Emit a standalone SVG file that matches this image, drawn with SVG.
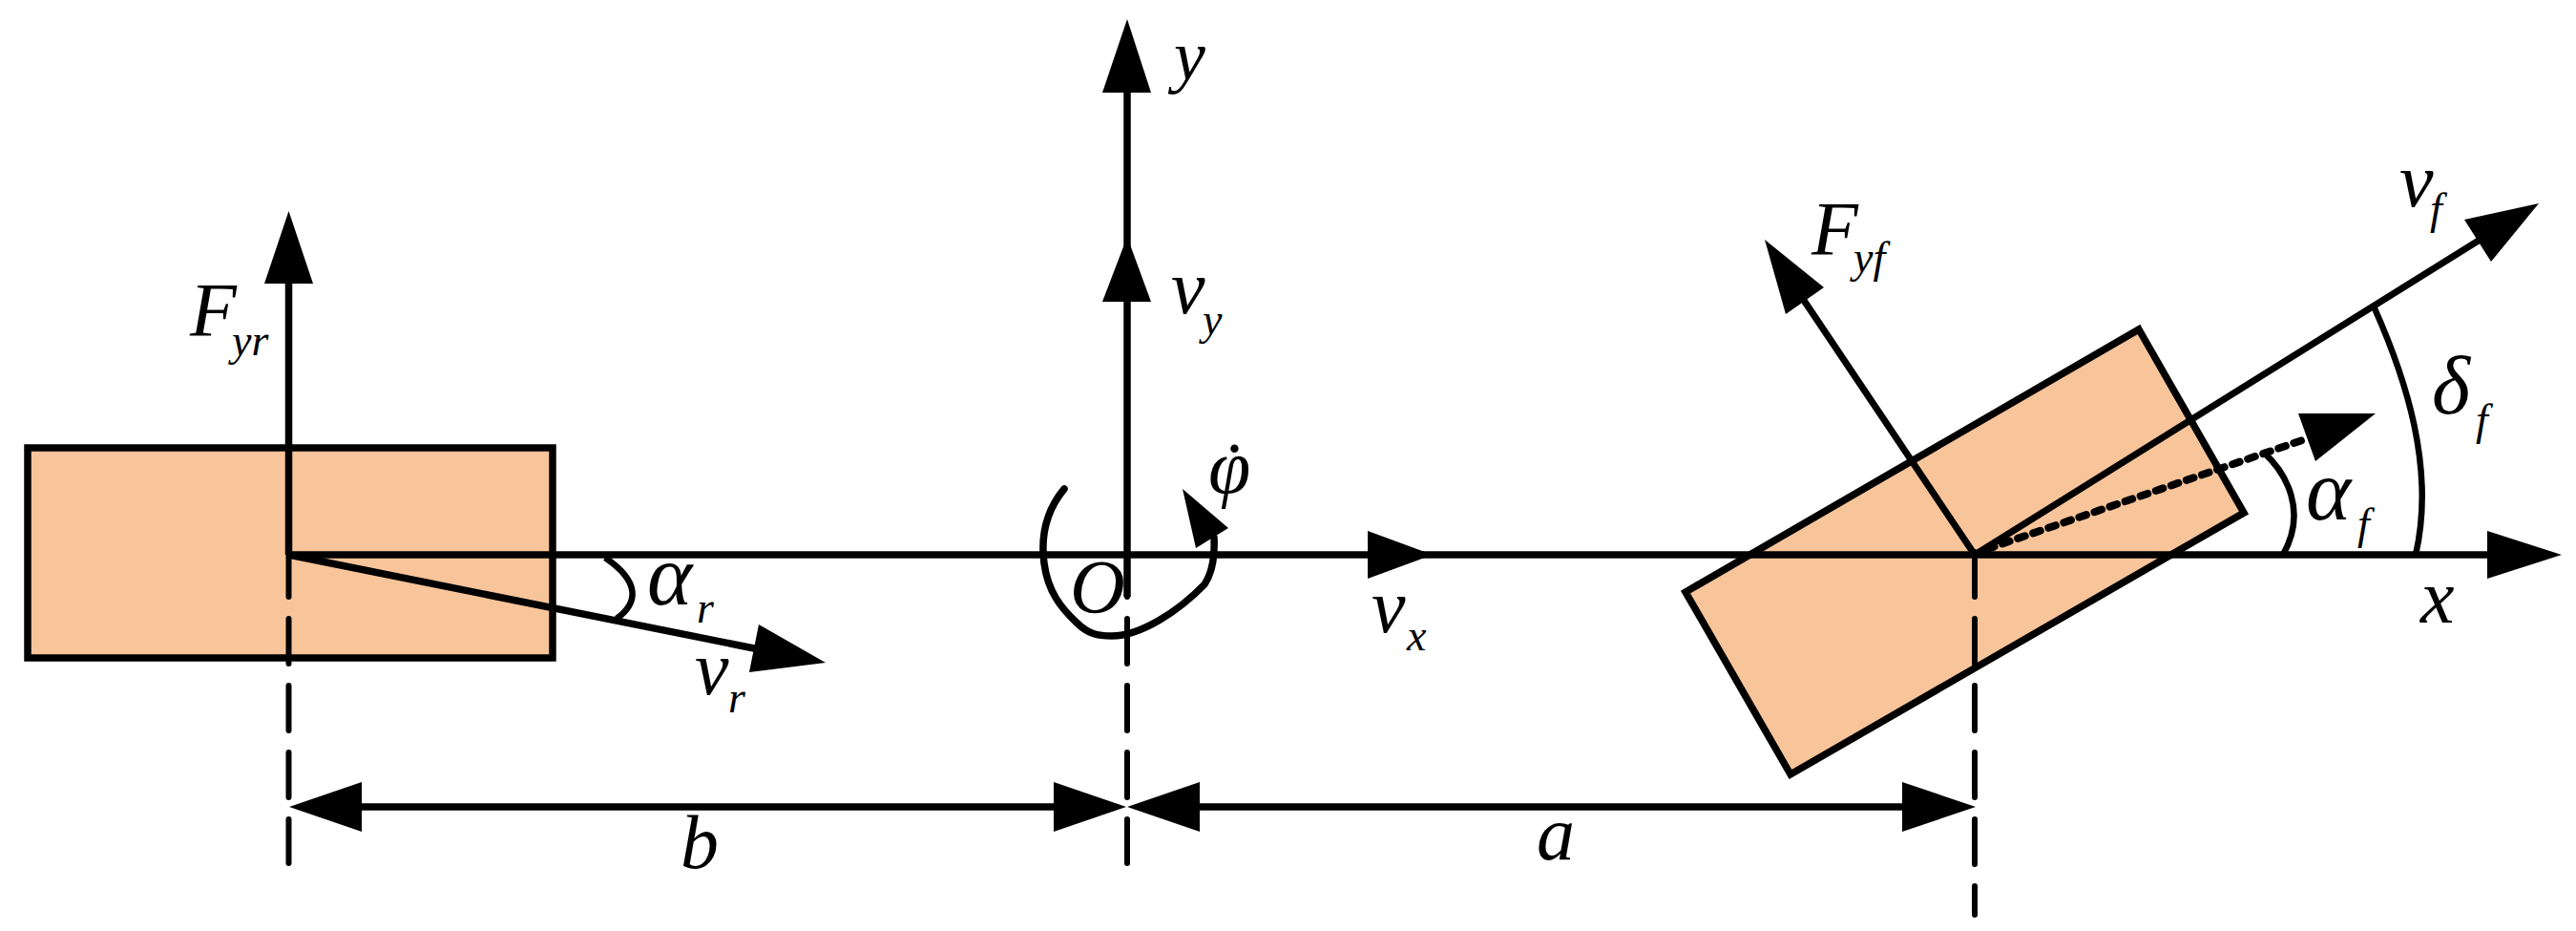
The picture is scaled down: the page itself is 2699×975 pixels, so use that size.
<svg xmlns="http://www.w3.org/2000/svg" width="2699" height="975" viewBox="0 0 2699 975">
<style>
.w{fill:#F8C49A;stroke:#000;stroke-width:7.5;stroke-linejoin:miter}
.l{fill:none;stroke:#000;stroke-width:7.5}
.t{fill:none;stroke:#000;stroke-width:7}
.a{fill:none;stroke:#000;stroke-width:6.5}
.d{fill:none;stroke:#000;stroke-width:6;stroke-dasharray:47 23;stroke-linecap:round}
.o{fill:none;stroke:#000;stroke-width:8;stroke-dasharray:8 9;stroke-linecap:round}
.h{fill:#000;stroke:none}
text{font-family:"Liberation Serif","Times New Roman",serif;font-style:italic;font-size:80px;fill:#000}
.s{font-size:46px}
.g{font-size:90px}
.e{font-size:86px}
</style>
<rect width="2699" height="975" fill="#fff"/>
<g id="rear-wheel"><rect class="w" x="29" y="469" width="550" height="220"/></g>
<g id="front-wheel"><polygon class="w" points="2241,345 2351,537 1876,811 1766,620"/></g>
<g id="connectors">
<path class="d" d="M302.5,578V904"/>
<path class="d" d="M1181,578V904"/>
<path class="d" d="M2069,578V958"/>
<path class="l" d="M302.5,290V581"/>
<path class="l" d="M1181,90V625"/>
<path class="l" d="M302.5,581H2620"/>
<path class="l" d="M302.5,581L795,680"/>
<path class="l" d="M375,845H1110"/>
<path class="l" d="M1250,845H2000"/>
<path class="t" d="M2069,581L2600,250"/>
<path class="t" d="M2069,581L1889,313"/>
<path class="o" d="M2082,575L2418,459"/>
<path class="a" d="M634,584C672,610 668,632 646,648"/>
<path class="a" d="M2372,474C2395,495 2418,535 2392,581"/>
<path class="a" d="M2488,323C2520,395 2552,490 2531,581"/>
<path class="l" style="stroke-linecap:round" d="M1115,512C1096,535 1090,560 1094,590C1098,620 1112,637 1128,652C1140,664 1150,666 1165,666C1195,666 1235,640 1262,612C1270,600 1273,585 1272,563"/>
<polygon class="h" points="302.5,221 328,297 277,297"/>
<polygon class="h" points="1181,20 1206,97 1155,97"/>
<polygon class="h" points="1181,248 1206,316 1155,316"/>
<polygon class="h" points="1501,581 1433,556 1433,606"/>
<polygon class="h" points="2684,581 2606,556 2606,606"/>
<polygon class="h" points="865,694 795,654 785,704"/>
<polygon class="h" points="1287,553 1239,512 1253,574"/>
<polygon class="h" points="303,845 379,819 379,871"/>
<polygon class="h" points="1180,845 1104,819 1104,871"/>
<polygon class="h" points="1181,845 1257,819 1257,871"/>
<polygon class="h" points="2070,845 1993,819 1993,871"/>
<polygon class="h" points="2660,213 2582,230 2610,274"/>
<polygon class="h" points="1849,251 1911,301 1871,329"/>
<polygon class="h" points="2489,433 2408,433 2426,483"/>
</g>
<g id="labels">
<text x="199" y="352">F<tspan class="s" x="243" y="372">yr</tspan></text>
<text class="g" x="678" y="633">α<tspan class="s" x="730" y="652">r</tspan></text>
<text x="728" y="727">v<tspan class="s" x="763" y="746">r</tspan></text>
<text x="1230" y="83" style="font-size:74px">y</text>
<text x="1227" y="328">v<tspan class="s" x="1260" y="350">y</tspan></text>
<text x="1121" y="642">O</text>
<text x="1266" y="516">φ</text>
<text x="1275" y="519">˙</text>
<text x="1437" y="662">v<tspan class="s" x="1474" y="681">x</tspan></text>
<text x="713" y="909">b</text>
<text x="1610" y="900">a</text>
<text x="1898" y="267">F<tspan class="s" x="1942" y="285">yf</tspan></text>
<text x="2514" y="216">v<tspan class="s" x="2546" y="234">f</tspan></text>
<text class="e" x="2548" y="433">δ<tspan class="s" x="2594" y="455">f</tspan></text>
<text class="g" x="2416" y="544">α<tspan class="s" x="2470" y="564">f</tspan></text>
<text x="2536" y="652">x</text>
</g>
</svg>
